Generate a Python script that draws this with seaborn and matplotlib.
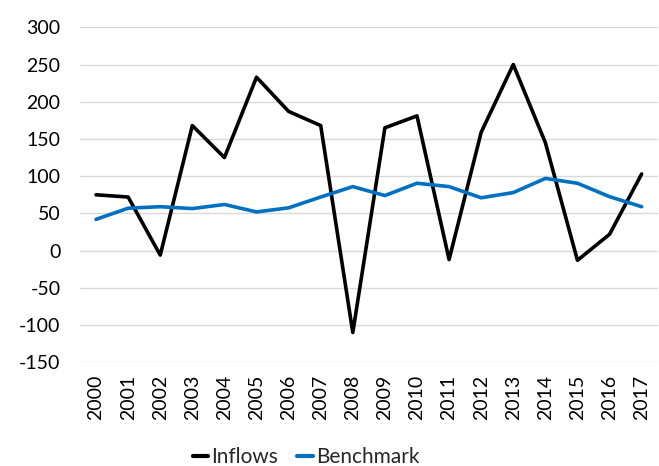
import matplotlib
matplotlib.use("Agg")
import matplotlib.pyplot as plt
import seaborn as sns
import pandas as pd

years = [str(y) for y in range(2000, 2018)]
inflows = [75, 72, -6, 168, 125, 233, 187, 168, -110, 165, 181, -12, 159, 250, 145, -13, 22, 103]
benchmark = [42, 57, 59, 56.5, 62, 52, 57.5, 72, 86, 74, 90.5, 86, 71, 78, 97, 90.5, 72.5, 59]
y_ticks = [-150, -100, -50, 0, 50, 100, 150, 200, 250, 300]

df = pd.DataFrame({
    "year": years * 2,
    "value": inflows + benchmark,
    "series": ["Inflows"] * len(years) + ["Benchmark"] * len(years),
})

sns.set_theme(style="white")
plt.rcParams["font.family"] = ["Lato", "DejaVu Sans"]

fig = plt.figure(figsize=(6.59, 4.66), dpi=100)
ax = fig.add_axes([80 / 659, 1 - 362.3 / 466, (657.7 - 80) / 659, (362.3 - 27.3) / 466])

sns.lineplot(data=df, x="year", y="value", hue="series", sort=False,
             palette={"Inflows": "#000000", "Benchmark": "#0070C0"},
             linewidth=2.6, ax=ax)

ax.set_xlim(-0.5, len(years) - 0.5)
ax.set_ylim(-150, 300)
ax.set_yticks(y_ticks)
ax.set_yticklabels([str(v) for v in y_ticks])
ax.yaxis.grid(True, color="#D9D9D9", linewidth=1.0)
ax.set_axisbelow(True)
for side in ["top", "right", "left", "bottom"]:
    ax.spines[side].set_visible(False)
ax.set_xlabel("")
ax.set_ylabel("")
ax.tick_params(axis="x", labelrotation=90, labelsize=14, length=0, pad=9)
ax.tick_params(axis="y", labelsize=14, length=0, pad=14)
for lab in ax.get_yticklabels() + ax.get_xticklabels():
    lab.set_color("#000000")

handles, labels = ax.get_legend_handles_labels()
leg = ax.legend(handles, labels, loc="center", bbox_to_anchor=(306 / 659, 1 - 457 / 466),
                bbox_transform=fig.transFigure, ncol=2, frameon=False, fontsize=15,
                handlelength=0.75, handletextpad=0.15, columnspacing=0.9)
for line in leg.get_lines():
    line.set_linewidth(3)

fig.savefig("out.png", dpi=100)
